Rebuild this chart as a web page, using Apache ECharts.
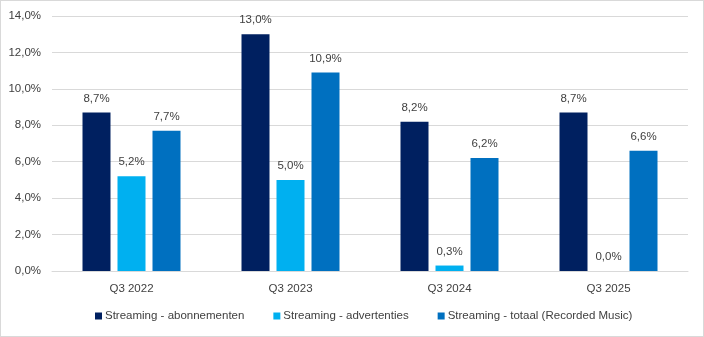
<!DOCTYPE html>
<html>
<head>
<meta charset="utf-8">
<script src="https://cdn.jsdelivr.net/npm/echarts@6/dist/echarts.min.js"></script>
<style>
  html, body { margin: 0; padding: 0; background: #fff; }
  #chart { width: 704px; height: 337px; box-sizing: border-box; border: 1px solid #d9d9d9; }
</style>
</head>
<body>
<div id="chart"></div>
<script>
// Quarters on the x-axis
const categories = ['Q3 2022', 'Q3 2023', 'Q3 2024', 'Q3 2025'];
// Growth percentages per streaming segment
const abonnementen = [8.7, 13.0, 8.2, 8.7];
const advertenties = [5.2, 5.0, 0.3, 0.0];
const totaal = [7.7, 10.9, 6.2, 6.6];
const seriesNames = [
  'Streaming - abonnementen',
  'Streaming - advertenties',
  'Streaming - totaal (Recorded Music)'
];
const colors = ['#002060', '#00B0F0', '#0070C0'];

const fmt = v => v.toFixed(1).replace('.', ',') + '%';
const font = '"Liberation Sans", Arial, sans-serif';

const chart = echarts.init(document.getElementById('chart'));
const makeSeries = (name, data, color) => ({
  name, type: 'bar', data,
  barWidth: 28, barGap: '25%',
  itemStyle: { color },
  label: {
    show: true, position: 'top', distance: 8,
    formatter: p => fmt(p.value),
    color: '#404040', fontFamily: font, fontSize: 11.5
  }
});

chart.setOption({
  animation: false,
  grid: { left: 51, right: 15, top: 15, bottom: 65, containLabel: false },
  legend: {
    bottom: 9, left: 89,
    padding: 5,
    itemWidth: 7, itemHeight: 7, itemGap: 29,
    icon: 'rect',
    textStyle: { color: '#404040', fontFamily: font, fontSize: 11.5, padding: [0, 0, 0, -2] },
    data: seriesNames
  },
  xAxis: {
    type: 'category', data: categories,
    axisLine: { lineStyle: { color: '#d9d9d9' } },
    axisTick: { show: false },
    axisLabel: { color: '#404040', fontFamily: font, fontSize: 11.5, margin: 12 }
  },
  yAxis: {
    type: 'value', min: 0, max: 14, interval: 2,
    axisLabel: { formatter: v => fmt(v), color: '#404040', fontFamily: font, fontSize: 11.5, margin: 11 },
    splitLine: { lineStyle: { color: '#d9d9d9' } },
    axisLine: { show: false }, axisTick: { show: false }
  },
  series: [
    makeSeries(seriesNames[0], abonnementen, colors[0]),
    makeSeries(seriesNames[1], advertenties, colors[1]),
    makeSeries(seriesNames[2], totaal, colors[2])
  ]
});
</script>
</body>
</html>
